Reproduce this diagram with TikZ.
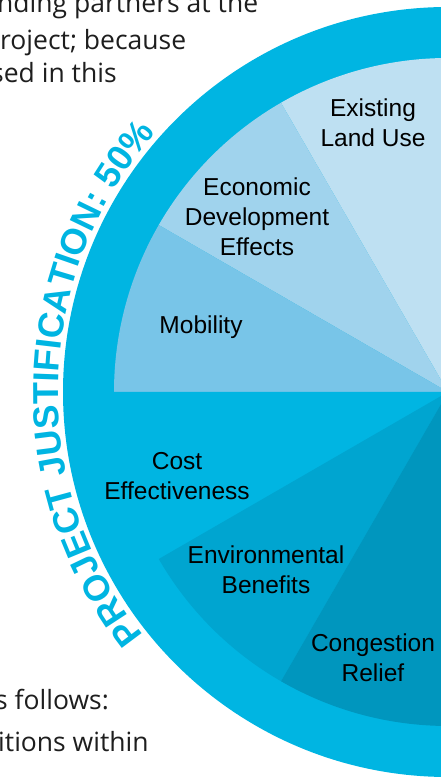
\documentclass[tikz,border=0pt]{standalone}
\usepackage{fontspec}
\setmainfont{Liberation Sans}
\newfontfamily\bodyfont{Open Sans}
\usetikzlibrary{decorations.text}

\definecolor{ringblue}{RGB}{0,181,226}
\definecolor{landuse}{RGB}{190,224,242}
\definecolor{econdev}{RGB}{160,211,237}
\definecolor{mobility}{RGB}{120,197,232}
\definecolor{environ}{RGB}{0,165,208}
\definecolor{congest}{RGB}{0,150,190}
\definecolor{bodytext}{RGB}{30,30,30}

\tikzset{
  criterion/.style={align=center, anchor=base, inner sep=0pt,
    font=\fontsize{24.5}{30}\selectfont},
  bodyline/.style={anchor=base west, inner sep=0pt, text=bodytext,
    font=\bodyfont\fontsize{26.5}{35}\selectfont},
  wedge/.style={fill=#1}
}

\begin{document}
\begin{tikzpicture}[x=1pt,y=1pt]
        \clip (0,0) rectangle (441,778);
        \coordinate (centre) at (448,386);
        % Draw outer ring
        \fill [ringblue] (centre) circle (385);
        % Draw the six wedges
        \fill [wedge=landuse] (centre) -- ([shift={(60:334)}]centre) arc [start angle=60, end angle=120, radius=334] -- cycle;
        \fill [wedge=econdev] (centre) -- ([shift={(120:334)}]centre) arc [start angle=120, end angle=150, radius=334] -- cycle;
        \fill [wedge=mobility] (centre) -- ([shift={(150:334)}]centre) arc [start angle=150, end angle=180, radius=334] -- cycle;
        \fill [wedge=ringblue] (centre) -- ([shift={(180:334)}]centre) arc [start angle=180, end angle=210, radius=334] -- cycle;
        \fill [wedge=environ] (centre) -- ([shift={(210:334)}]centre) arc [start angle=210, end angle=240, radius=334] -- cycle;
        \fill [wedge=congest] (centre) -- ([shift={(240:334)}]centre) arc [start angle=240, end angle=300, radius=334] -- cycle;
        % Curved heading
        \path [decorate, decoration={text along path, text align=center, text color=ringblue,
                text={|\fontsize{36}{36}\selectfont\bfseries|PROJECT JUSTIFICATION: 50{\%}}}]
                ([shift={(221:390)}]centre) arc [start angle=221, end angle=136, radius=390];
        % Wedge labels (base is the last line)
        \node [criterion] (existing) at (373,631) {Existing\\Land Use};
        \node [criterion] (economic) at (257,522) {Economic\\Development\\Effects};
        \node [criterion] (mobil) at (201,444) {Mobility};
        \node [criterion] (cost) at (177,278) {Cost\\Effectiveness};
        \node [criterion] (environment) at (266,184) {Environmental\\Benefits};
        \node [criterion] (congestion) at (373,96) {Congestion\\Relief};
        % Page text around the chart
        \node [bodyline] (lineone) at (-3,765) {nding partners at the};
        \node [bodyline] (linetwo) at (0,728) {roject; because};
        \node [bodyline] (linethree) at (-9,695) {sed in this};
        \node [bodyline] (linefour) at (-5,68) {s follows:};
        \node [bodyline] (linefive) at (-2,26) {itions within};
\end{tikzpicture}
\end{document}
